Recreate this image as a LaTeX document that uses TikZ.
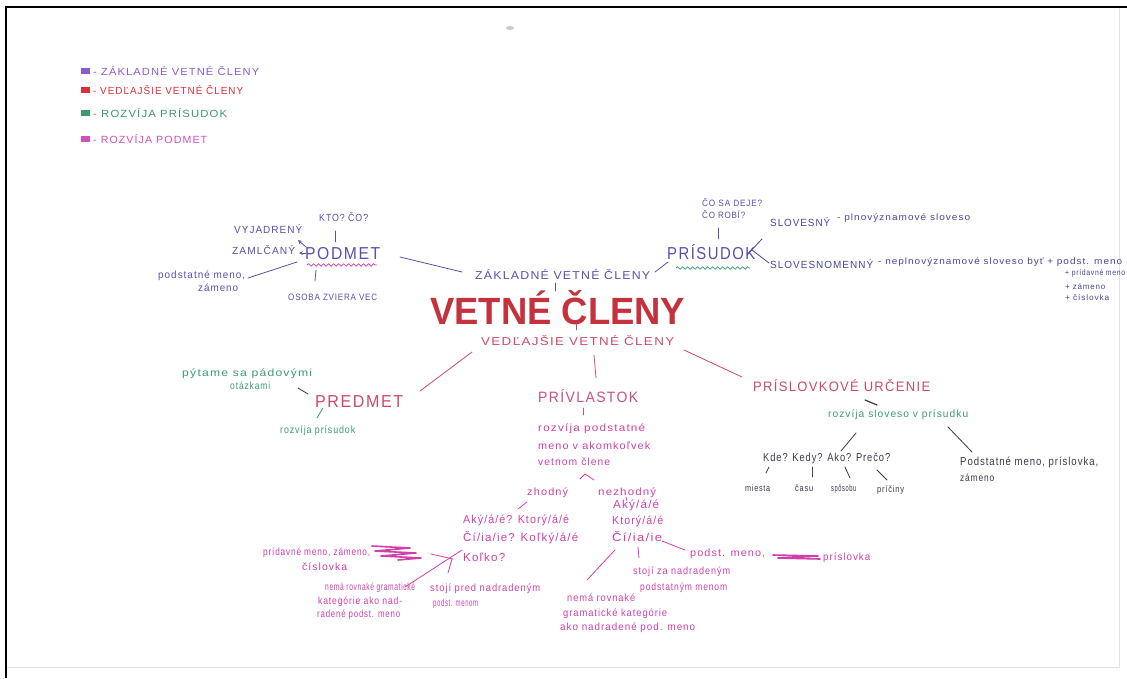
\documentclass[tikz,border=0pt]{standalone}
\usepackage{fontspec}
\setmainfont[LetterSpace=10]{Liberation Sans}
\newfontfamily\titlefont{Liberation Sans}
\usetikzlibrary{decorations.pathmorphing}
\definecolor{zak}{HTML}{5B4FB0}
\definecolor{zakdk}{HTML}{4A46A0}
\definecolor{lgP}{HTML}{8A5CD0}
\definecolor{lgR}{HTML}{D8303A}
\definecolor{lgG}{HTML}{3A9A6A}
\definecolor{lgM}{HTML}{D050C0}
\definecolor{ved}{HTML}{CC4A6A}
\definecolor{ttl}{HTML}{C4323E}
\definecolor{grn}{HTML}{3C9A78}
\definecolor{mag}{HTML}{D040A8}
\definecolor{pv}{HTML}{C8508A}
\definecolor{ink}{HTML}{3A3A4A}
\newcommand\tx[3][9]{\resizebox{#2pt}{#1pt}{\vphantom{Á}#3}}
\begin{document}
\begin{tikzpicture}[x=1pt,y=-1pt,
  t/.style={inner sep=0pt, anchor=west},
  ln/.style={line width=0.8pt, line cap=round},
  wavy/.style={decorate, decoration={snake, amplitude=1.3pt, segment length=5pt}, line width=0.7pt}]
\useasboundingbox (0,0) rectangle (1127,678);
\fill[white] (0,0) rectangle (1127,678);
% paper frame
\draw[line width=2.5pt] (6,678) -- (6,7) -- (1127,7);
\draw[black!12, line width=1pt] (1119,8) -- (1119,667) -- (7,667);
\fill[gray!40] (510,28) ellipse (4 and 2);

% legend
\fill[lgP] (81,68) rectangle (90,74);
\fill[lgR] (81,87) rectangle (90,93);
\fill[lgG] (81,110) rectangle (90,116);
\fill[lgM] (81,136) rectangle (90,142);
\node[t, text=lgP] (lg1) at (93,71) {\tx{166}{- ZÁKLADNÉ VETNÉ ČLENY}};
\node[t, text=lgR] (lg2) at (93,90) {\tx{150}{- VEDĽAJŠIE VETNÉ ČLENY}};
\node[t, text=lgG] (lg3) at (93,113) {\tx{134}{- ROZVÍJA PRÍSUDOK}};
\node[t, text=lgM] (lg4) at (93,139) {\tx{114}{- ROZVÍJA PODMET}};

% centre
\node[t, text=zak] (zvc) at (475,275) {\tx[10]{175}{ZÁKLADNÉ VETNÉ ČLENY}};
\node[t, text=ttl] (title) at (430,308) {\resizebox{255pt}{34pt}{\titlefont\bfseries VETNÉ ČLENY}};
\node[t, text=ved] (vvc) at (481,341) {\tx[10]{193}{VEDĽAJŠIE VETNÉ ČLENY}};
\draw[ln, zak] (555,283) -- (555,291);
\draw[ln, ved] (576,323) -- (576,330);

% PODMET
\node[t, text=zak] (podmet) at (305,252) {\tx[15]{75}{PODMET}};
\draw[wavy, mag] (307,265) -- (377,265);
\node[t, text=zak] (ktoco) at (319,217) {\tx{49}{KTO? ČO?}};
\draw[ln, zak] (335,231) -- (335,242);
\node[t, text=zak] (vyj) at (234,229) {\tx{68}{VYJADRENÝ}};
\node[t, text=zak] (zaml) at (232,250) {\tx{63}{ZAMLČANÝ}};
\draw[ln, zak, -stealth] (306,247) -- (298,240);
\draw[ln, zak, -stealth] (306,253) -- (299,253);
\node[t, text=zak] (pm1) at (158,275) {\tx{87}{podstatné meno,}};
\node[t, text=zak] (pm2) at (198,287) {\tx{40}{zámeno}};
\draw[ln, zak] (248,278) -- (297,262);
\node[t, text=zak] (osoba) at (288,297) {\tx[8]{89}{OSOBA ZVIERA VEC}};
\draw[ln, zak] (316,270) -- (315,281);
\draw[ln, zak] (400,257) -- (462,272);

% PRISUDOK
\draw[ln, zak] (655,272) -- (668,262);
\node[t, text=zak] (prisudok) at (667,252) {\tx[15]{88}{PRÍSUDOK}};
\draw[wavy, grn] (676,268) -- (750,268);
\node[t, text=zak] (cosa) at (702,203) {\tx[8]{60}{ČO SA DEJE?}};
\node[t, text=zak] (coro) at (702,215) {\tx[8]{43}{ČO ROBÍ?}};
\draw[ln, zak] (718,228) -- (718,239);
\draw[ln, zakdk] (747,255) -- (762,239);
\node[t, text=zakdk] (slov) at (770,222) {\tx{60}{SLOVESNÝ}};
\node[t, text=zakdk] (slov2) at (837,217) {\tx[8]{133}{- plnovýznamové sloveso}};
\draw[ln, zakdk] (752,250) -- (769,263);
\node[t, text=zakdk] (slm) at (770,264) {\tx{103}{SLOVESNOMENNÝ}};
\node[t, text=zakdk] (slm2) at (878,261) {\tx[8]{244}{- neplnovýznamové sloveso byť + podst. meno}};
\node[t, text=zakdk] (slm3) at (1065,273) {\tx[7]{60}{+ prídavné meno}};
\node[t, text=zakdk] (slm4) at (1065,286) {\tx[7]{40}{+ zámeno}};
\node[t, text=zakdk] (slm5) at (1065,297) {\tx[7]{44}{+ číslovka}};

% PREDMET
\draw[ln, ved] (420,391) -- (472,352);
\node[t, text=grn] (pyt1) at (182,373) {\tx{130}{pýtame sa pádovými}};
\node[t, text=grn] (pyt2) at (230,385) {\tx{40}{otázkami}};
\draw[ln, ink] (298,388) -- (308,394);
\node[t, text=ved] (predmet) at (315,400) {\tx[15]{88}{PREDMET}};
\draw[ln, grn] (323,408) -- (317,418);
\node[t, text=grn] (rpr) at (280,430) {\tx{75}{rozvíja prísudok}};

% PRIVLASTOK
\draw[ln, pv] (594,355) -- (596,378);
\node[t, text=pv] (privl) at (538,396) {\tx[13]{100}{PRÍVLASTOK}};
\draw[ln, pv] (583,408) -- (583,415);
\node[t, text=mag] (pv1) at (538,428) {\tx{107}{rozvíja podstatné}};
\node[t, text=mag] (pv2) at (538,445) {\tx{112}{meno v akomkoľvek}};
\node[t, text=mag] (pv3) at (538,461) {\tx{72}{vetnom člene}};
\draw[ln, mag] (580,479) -- (585,474) -- (594,480);
\node[t, text=mag] (zh) at (527,492) {\tx{41}{zhodný}};
\node[t, text=mag] (nz) at (598,492) {\tx{58}{nezhodný}};
\draw[ln, mag] (527,502) -- (518,509);
\draw[ln, mag] (626,497) -- (627,501);
\node[t, text=mag] (zq1) at (463,520) {\tx[10]{106}{Aký/á/é? Ktorý/á/é}};
\node[t, text=mag] (zq2) at (463,538) {\tx[10]{115}{Čí/ia/ie? Koľký/á/é}};
\node[t, text=mag] (zq3) at (463,557) {\tx[10]{42}{Koľko?}};
\node[t, text=mag] (nq1) at (613,505) {\tx[10]{46}{Aký/á/é}};
\node[t, text=mag] (nq2) at (612,521) {\tx[10]{51}{Ktorý/á/é}};
\node[t, text=mag] (nq3) at (612,537) {\tx[10]{50}{Čí/ia/ie}};
% zhodny details
\node[t, text=mag] (zl1) at (263,552) {\tx{107}{prídavné meno, zámeno,}};
\node[t, text=mag] (zl2) at (302,566) {\tx{45}{číslovka}};
\draw[mag, line width=1.6pt, line cap=round, line join=round]
  (372,546) -- (410,548) -- (375,551) -- (416,553) -- (381,556) -- (421,558) -- (398,560);
\draw[ln, mag] (405,587) -- (462,550);
\draw[ln, mag] (431,554) -- (453,559);
\draw[ln, mag] (452,559) -- (448,573);
\node[t, text=mag] (zn1) at (325,587) {\tx{90}{nemá rovnaké gramatické}};
\node[t, text=mag] (zn2) at (318,601) {\tx{84}{kategórie ako nad-}};
\node[t, text=mag] (zn3) at (317,614) {\tx{83}{radené podst. meno}};
\node[t, text=mag] (zs1) at (430,588) {\tx{110}{stojí pred nadradeným}};
\node[t, text=mag] (zs2) at (433,603) {\tx{45}{podst. menom}};
% nezhodny details
\draw[ln, mag] (615,550) -- (587,580);
\draw[ln, mag] (638,547) -- (639,558);
\draw[ln, mag] (662,541) -- (685,550);
\node[t, text=mag] (nn1) at (567,597) {\tx{68}{nemá rovnaké}};
\node[t, text=mag] (nn2) at (563,613) {\tx{104}{gramatické kategórie}};
\node[t, text=mag] (nn3) at (560,627) {\tx{135}{ako nadradené pod. meno}};
\node[t, text=mag] (ns1) at (633,571) {\tx{97}{stojí za nadradeným}};
\node[t, text=mag] (ns2) at (640,587) {\tx{87}{podstatným menom}};
\node[t, text=mag] (np1) at (690,553) {\tx{75}{podst. meno,}};
\draw[mag, line width=1.6pt, line cap=round, line join=round]
  (773,555) -- (818,556) -- (778,558) -- (820,559);
\node[t, text=mag] (np2) at (823,557) {\tx{47}{príslovka}};

% PRISLOVKOVE URCENIE
\draw[ln, ved] (684,350) -- (742,377);
\node[t, text=ved] (pu) at (753,386) {\tx[12]{177}{PRÍSLOVKOVÉ URČENIE}};
\draw[ln, ink, line width=1.2pt] (865,400) -- (877,405);
\node[t, text=grn] (rs) at (828,414) {\tx{140}{rozvíja sloveso v prísudku}};
\draw[ln, ink] (841,451) -- (856,433);
\draw[ln, ink] (948,427) -- (972,452);
\node[t, text=ink] (kd) at (763,458) {\tx[10]{127}{Kde? Kedy? Ako? Prečo?}};
\draw[ln, ink] (769,467) -- (766,473);
\draw[ln, ink] (812,467) -- (812,477);
\draw[ln, ink] (845,467) -- (850,478);
\draw[ln, ink] (877,470) -- (887,480);
\node[t, text=ink] (mi) at (745,488) {\tx[8]{25}{miesta}};
\node[t, text=ink] (ca) at (795,488) {\tx[8]{18}{času}};
\node[t, text=ink] (sp) at (831,488) {\tx[8]{25}{spôsobu}};
\node[t, text=ink] (pr) at (877,489) {\tx[8]{27}{príčiny}};
\node[t, text=ink] (ps1) at (960,462) {\tx[10]{138}{Podstatné meno, príslovka,}};
\node[t, text=ink] (ps2) at (960,477) {\tx[9]{34}{zámeno}};
\end{tikzpicture}
\end{document}
